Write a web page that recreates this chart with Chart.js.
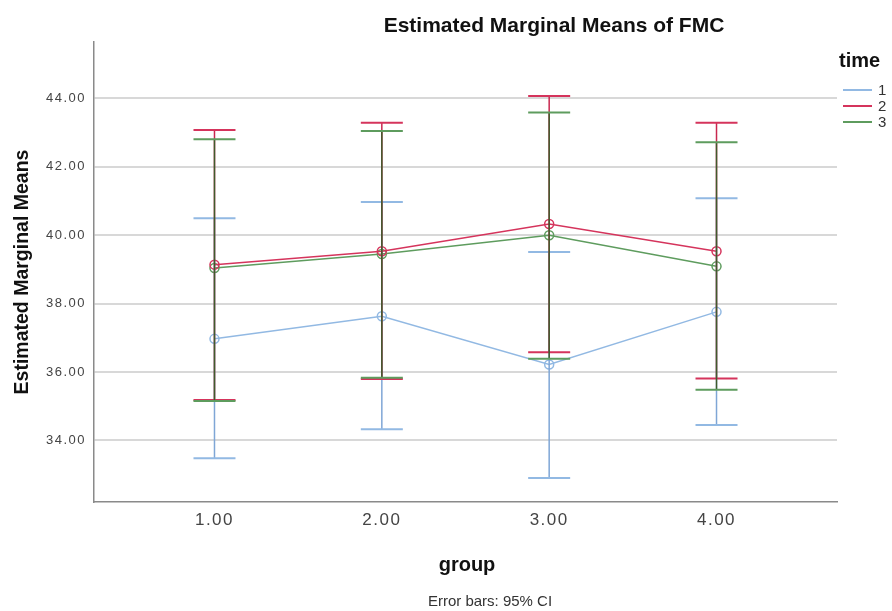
<!DOCTYPE html>
<html>
<head>
<meta charset="utf-8">
<script src="https://cdn.jsdelivr.net/npm/chart.js@4.4.1/dist/chart.umd.min.js"></script>
<style>
  html, body { margin: 0; padding: 0; background: #fff; }
  canvas { display: block; }
</style>
</head>
<body>
<canvas id="c" width="892" height="611"></canvas>
<script>
// groups on the x axis
const groups = [1, 2, 3, 4];
const groupLabels = ['1.00', '2.00', '3.00', '4.00'];
const yTicks = [34, 36, 38, 40, 42, 44];

// time = 1, 2, 3 : marginal means and 95% CI
const time1Mean = [36.97, 37.63, 36.22, 37.76];
const time1Low = [33.48, 34.33, 32.90, 34.45];
const time1High = [40.50, 40.97, 39.51, 41.08];

const time2Mean = [39.14, 39.53, 40.33, 39.53];
const time2Low = [35.18, 35.80, 36.58, 35.81];
const time2High = [43.08, 43.29, 44.07, 43.29];

const time3Mean = [39.04, 39.45, 40.00, 39.09];
const time3Low = [35.15, 35.83, 36.39, 35.48];
const time3High = [42.81, 43.05, 43.59, 42.72];

const series = [
  { label: '1', mean: time1Mean, low: time1Low, high: time1High, color: '#92b9e3', stem: '#7fa6d6' },
  { label: '2', mean: time2Mean, low: time2Low, high: time2High, color: '#d5345c', stem: '#c8284f' },
  { label: '3', mean: time3Mean, low: time3Low, high: time3High, color: '#5e9c5e', stem: '#3f5c2c' },
];

const FONT = '"Liberation Sans", Arial, sans-serif';

// SPSS spaces its tick labels out a bit
const spacing = {
  id: 'spacing',
  beforeDraw(chart) {
    chart.ctx.letterSpacing = '1.5px';
  },
};

// error bars drawn from the CI arrays through the chart scales
const errorBars = {
  id: 'errorBars',
  afterDatasetsDraw(chart) {
    const { ctx, scales: { x, y } } = chart;
    ctx.save();
    series.forEach((s) => {
      groups.forEach((g, i) => {
        const px = x.getPixelForValue(g);
        const top = y.getPixelForValue(s.high[i]);
        const bot = y.getPixelForValue(s.low[i]);
        ctx.strokeStyle = s.stem;
        ctx.lineWidth = 1.5;
        ctx.beginPath();
        ctx.moveTo(px, top);
        ctx.lineTo(px, bot);
        ctx.stroke();
        ctx.strokeStyle = s.color;
        ctx.lineWidth = 2;
        ctx.beginPath();
        ctx.moveTo(px - 21, top);
        ctx.lineTo(px + 21, top);
        ctx.moveTo(px - 21, bot);
        ctx.lineTo(px + 21, bot);
        ctx.stroke();
      });
    });
    ctx.restore();
  },
};

// title, axis titles, footnote and the "time" legend
const texts = {
  id: 'texts',
  afterDraw(chart) {
    const { ctx, chartArea } = chart;
    ctx.save();
    ctx.letterSpacing = '0px';
    ctx.fillStyle = '#111';
    ctx.textAlign = 'center';
    ctx.textBaseline = 'alphabetic';
    ctx.font = 'bold 21px ' + FONT;
    ctx.fillText('Estimated Marginal Means of FMC', 554, 32);
    ctx.font = 'bold 20px ' + FONT;
    ctx.fillText('group', 467, 571);
    ctx.font = '15px ' + FONT;
    ctx.fillStyle = '#333';
    ctx.fillText('Error bars: 95% CI', 490, 606);

    ctx.save();
    ctx.translate(28, (chartArea.top + chartArea.bottom) / 2);
    ctx.rotate(-Math.PI / 2);
    ctx.fillStyle = '#111';
    ctx.font = 'bold 19.5px ' + FONT;
    ctx.fillText('Estimated Marginal Means', 0, 0);
    ctx.restore();

    ctx.textAlign = 'left';
    ctx.textBaseline = 'middle';
    ctx.fillStyle = '#111';
    ctx.font = 'bold 20px ' + FONT;
    ctx.fillText('time', 839, 61);
    ctx.font = '15px ' + FONT;
    series.forEach((s, i) => {
      const ly = 90 + i * 16;
      ctx.strokeStyle = s.color;
      ctx.lineWidth = 2;
      ctx.beginPath();
      ctx.moveTo(843, ly);
      ctx.lineTo(872, ly);
      ctx.stroke();
      ctx.fillStyle = '#333';
      ctx.fillText(s.label, 878, ly + 1);
    });
    ctx.restore();
  },
};

new Chart(document.getElementById('c'), {
  type: 'line',
  data: {
    datasets: series.map((s) => ({
      label: s.label,
      data: groups.map((g, i) => ({ x: g, y: s.mean[i] })),
      borderColor: s.color,
      borderWidth: 1.5,
      pointRadius: 4.5,
      pointBorderWidth: 1.5,
      pointBackgroundColor: 'rgba(255,255,255,0)',
      pointBorderColor: s.color,
      tension: 0,
      fill: false,
    })),
  },
  options: {
    responsive: false,
    animation: false,
    devicePixelRatio: 1,
    layout: { padding: { top: 42, right: 55, bottom: 0, left: 0 } },
    plugins: {
      legend: { display: false },
      title: { display: false },
      tooltip: { enabled: false },
    },
    scales: {
      x: {
        type: 'linear',
        min: 0.28,
        max: 4.72,
        afterFit(scale) { scale.height = 109; },
        afterBuildTicks(scale) { scale.ticks = groups.map((v) => ({ value: v })); },
        ticks: {
          color: '#444',
          font: { family: FONT, size: 17 },
          padding: 8,
          callback: (v) => groupLabels[groups.indexOf(v)] || '',
        },
        grid: { display: false, drawTicks: false },
        border: { display: true, color: '#8a8a8a', width: 1.5 },
      },
      y: {
        min: 32.2,
        max: 45.65,
        afterFit(scale) { scale.width = 94; },
        afterBuildTicks(scale) { scale.ticks = yTicks.map((v) => ({ value: v })); },
        ticks: {
          color: '#444',
          font: { family: FONT, size: 13 },
          padding: 8,
          callback: (v) => v.toFixed(2),
        },
        grid: { color: '#d8d8d8', lineWidth: 2, drawTicks: false },
        border: { display: true, color: '#8a8a8a', width: 1.5 },
      },
    },
  },
  plugins: [spacing, errorBars, texts],
});
</script>
</body>
</html>
